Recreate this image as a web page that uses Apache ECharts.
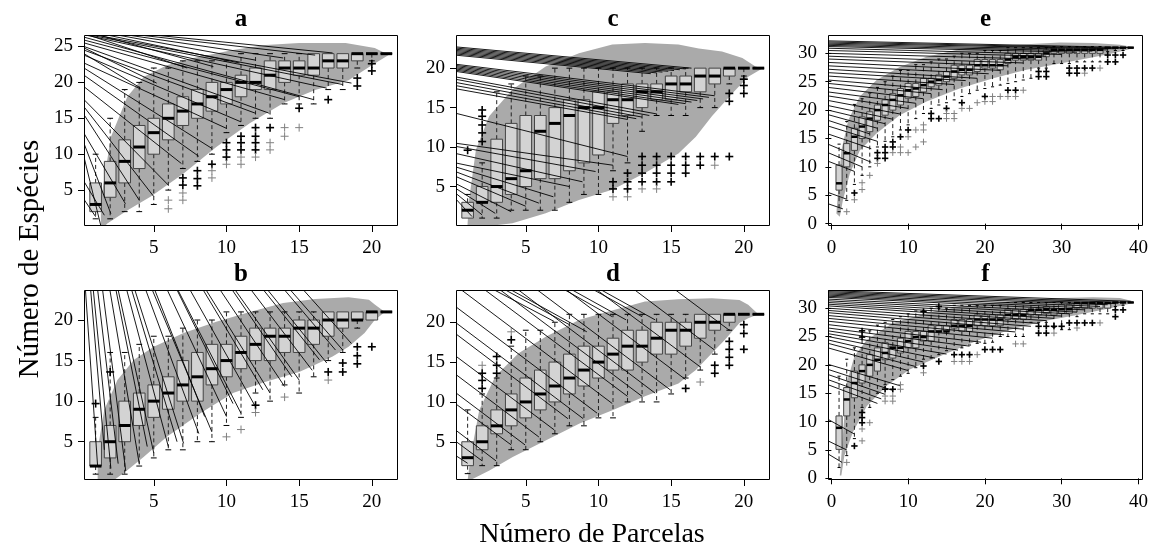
<!DOCTYPE html>
<html><head><meta charset="utf-8">
<script src="https://cdn.jsdelivr.net/npm/echarts@6/dist/echarts.min.js"></script>
<style>html,body{margin:0;padding:0;background:#fff}#c{width:1153px;height:551px}</style>
</head><body><div id="c"></div>
<script>
// ---------- tick labels ----------
const ticksX20 = [5, 10, 15, 20];
const ticksX40 = [0, 10, 20, 30, 40];
const ticksY25 = [5, 10, 15, 20, 25];
const ticksY20 = [5, 10, 15, 20];
const ticksY30 = [0, 5, 10, 15, 20, 25, 30];
const panelTitles = ['a', 'b', 'c', 'd', 'e', 'f'];
const yTitle = 'Número de Espécies';
const xTitle = 'Número de Parcelas';

// ---------- boxes: [parcelas, lowerWhisker, Q1, median, Q3, upperWhisker] ----------
const boxesA = [[1,1,2,3,6,10],[2,1,4,6,9,15],[3,2,6,9,12,19],[4,2,8,11,14,20],[5,3,10,13,15,22],[6,5,12,15,17,22],[7,8,14,16,18,23],[8,9,15,17,19,23],[9,10,16,18,20,23],[10,13,17,19,20,23],[11,14,18,20,21,24],[12,15,19,20,22,24],[13,15,19,21,23,24],[14,17,20,22,23,24],[15,17,21,22,23,24],[16,17,21,22,24,24],[17,19,22,23,24,24],[18,19,22,23,24,24],[19,22,23,24,24,24],[20,23,24,24,24,24],[21,24,24,24,24,24]];
const boxesB = [[1,1,2,2,5,8],[2,1,3,5,7,16],[3,1,5,7,10,16],[4,2,7,9,11,17],[5,3,8,10,12,18],[6,4,9,11,13,18],[7,4,10,12,15,19],[8,5,10,13,16,20],[9,5,12,14,17,20],[10,7,13,15,17,21],[11,8,14,16,18,21],[12,11,15,17,19,21],[13,10,15,18,19,21],[14,12,16,18,19,21],[15,11,16,19,20,21],[16,13,17,19,20,21],[17,15,18,20,21,21],[18,16,19,20,21,21],[19,19,20,20,21,21],[20,20,20,21,21,21],[21,21,21,21,21,21]];
const boxesC = [[1,1,1,2,3,4],[2,1,3,3,5,8],[3,1,3,5,11,17],[4,2,4,6,13,18],[5,2,5,7,14,19],[6,2,6,12,14,19],[7,2,6,13,15,20],[8,3,7,14,16,20],[9,4,8,15,16,20],[10,4,9,15,17,20],[11,7,13,16,17,20],[12,8,14,16,18,20],[13,12,15,17,18,20],[14,14,16,17,18,20],[15,14,16,18,19,20],[16,14,17,18,19,20],[17,15,17,19,20,20],[18,15,18,19,20,20],[19,18,19,20,20,20],[20,19,20,20,20,20],[21,20,20,20,20,20]];
const boxesD = [[1,1,2,3,5,9],[2,2,4,5,7,11],[3,2,6,7,9,13],[4,4,7,9,11,17],[5,4,8,10,13,19],[6,5,9,11,14,19],[7,6,10,12,15,20],[8,7,11,13,16,21],[9,7,12,14,17,21],[10,8,13,15,17,21],[11,8,14,16,18,21],[12,10,14,17,19,21],[13,10,15,17,19,21],[14,10,16,18,20,21],[15,11,16,19,20,21],[16,13,17,19,20,21],[17,14,18,20,21,21],[18,16,19,20,21,21],[19,19,20,21,21,21],[20,21,21,21,21,21],[21,21,21,21,21,21]];
const boxesE = [[1,2.1,5.9,7.1,10.3,14],[2,4.1,10,12.4,14.1,18],[3,6.9,12.9,15.3,16.8,21],[4,8.5,15,17.1,18.8,22],[5,10,16.2,18.5,19.7,23],[6,13.5,18.2,20,20.9,24],[7,14.5,19.1,20.9,21.8,25],[8,15.3,20,21.8,22.9,26],[9,16.5,20.9,22.6,23.8,27],[10,17.4,22.1,23.5,24.7,27],[11,18.5,22.4,23.8,24.7,28],[12,19.4,23.2,24.4,25.6,28],[13,20.3,24.1,25,25.6,28.5],[14,20.9,24.4,25.3,26.2,29],[15,21.3,25,25.9,26.8,29],[16,21.8,25.6,26.8,27.9,29.5],[17,22.4,26.2,27.1,27.9,30],[18,22.9,26.2,27.1,27.9,30],[19,23.5,26.8,27.9,28.9,30],[20,23.8,27.4,27.9,28.9,30.5],[21,24.1,27.4,27.9,28.9,30.5],[22,24.4,27.1,27.9,28.9,30.5],[23,24.7,28.2,28.9,30,31],[24,25,28.8,29.4,30,31],[25,25.3,28.8,29.4,30,31],[26,25.6,28.8,29.4,30,31],[27,27.4,28.8,29.4,30,31],[28,27.4,29.4,30,30.6,31],[29,28.2,30,30.6,30.9,31.2],[30,28.2,30,30.6,30.9,31.2],[31,28.2,30,30.6,30.9,31.2],[32,28.5,30,30.6,30.9,31.2],[33,28.5,30,30.6,30.9,31.2],[34,28.5,30,30.6,30.9,31.2],[35,28.5,30,30.6,30.9,31.2],[36,30.3,30.9,31,31,31],[37,30.5,31,31,31,31],[38,30.5,31,31,31,31],[39,31,31,31,31,31]];
const boxesF = [[1,1.9,5.1,8.9,11,18],[2,4,11,13.9,16,21],[3,7,14.2,16.8,18.9,23],[4,12.5,16.8,18.9,20,25],[5,12.5,18,20,21.8,26],[6,15,18.9,20.9,23,27],[7,16.5,20.9,22.1,23.9,27.5],[8,17.4,21.2,23,23.3,28],[9,18,22.1,23,24.7,28.5],[10,18.5,23,24.2,25.9,29],[11,19.5,23,24.9,25.9,29.5],[12,21,24.2,24.9,25.9,29.5],[13,21.2,24.2,25.9,26.9,30],[14,21.8,25.9,25.9,26.9,30],[15,22.5,25.9,25.9,26.9,30],[16,22.7,26.5,26.9,28,30.5],[17,23,25.9,26.9,28,30.5],[18,23.5,25.9,26.9,28,30.5],[19,23.8,26.9,28,28.8,30.5],[20,23.8,26.9,28,28.8,30.5],[21,24,26.9,28,28.8,30.5],[22,25,26.9,28,28.8,30.5],[23,25,28,28.8,29.8,31],[24,25,28,28.8,29.8,31],[25,25,28,28.8,29.8,31],[26,27.5,28.8,29.7,29.8,31],[27,27.5,28.8,29.7,29.8,31],[28,27.5,29.1,29.8,30.3,31],[29,26.6,28.8,29.7,29.8,31],[30,26.2,29.1,29.8,30.6,31],[31,26.2,29.1,29.8,30.6,31],[32,28.5,30,30.9,30.9,31],[33,29,30,30.9,30.9,31],[34,29,30,30.9,30.9,31],[35,29,30,30.9,30.9,31],[36,29,30,30.9,30.9,31],[37,30.3,31,31,31,31],[38,30.5,31,31,31,31],[39,31,31,31,31,31]];

// ---------- outliers: [parcelas, especies, grey(1)/black(0)] ----------
const outA = [[6,3.6,1],[6,2.4,1],[7,6.7,0],[7,5.7,0],[7,4.6,1],[7,3.6,1],[8,7.7,0],[8,6.6,0],[8,5.6,0],[9,8.6,0],[9,7.7,1],[9,6.7,1],[10,11.6,0],[10,10.6,0],[10,9.6,0],[10,8.6,1],[11,12.5,0],[11,11.6,0],[11,10.6,0],[11,9.6,1],[11,8.6,1],[12,13.7,0],[12,12.5,0],[12,11.6,0],[12,10.6,0],[12,9.6,1],[13,13.7,0],[13,11.6,1],[13,10.6,1],[14,13.7,1],[14,12.5,1],[15,16.4,0],[15,13.7,1],[17,17.6,0],[19,20.6,0],[19,19.5,0],[20,22.6,0],[20,21.6,0]];
const outB = [[1,9.7,0],[2,13.6,0],[10,5.6,1],[11,6.5,1],[12,9.5,0],[12,8.6,1],[14,10.5,1],[17,13.6,0],[17,12.6,1],[18,14.7,0],[18,13.6,0],[19,16.7,0],[19,15.6,0],[19,14.6,0],[20,16.7,0]];
const outC = [[1,9.6,0],[2,14.7,0],[2,13.9,0],[2,12.8,0],[2,11.8,0],[2,10.7,0],[11,5.6,0],[11,4.7,0],[11,3.7,1],[12,6.7,0],[12,5.6,0],[12,4.7,0],[12,3.7,1],[13,8.8,0],[13,7.7,0],[13,6.7,0],[13,5.6,0],[13,4.7,1],[14,8.8,0],[14,7.7,0],[14,6.7,0],[14,5.6,0],[14,4.7,1],[15,8.8,0],[15,7.7,0],[15,6.7,0],[15,5.6,0],[16,8.8,0],[16,7.7,0],[16,6.7,0],[17,8.8,0],[17,7.7,0],[18,8.8,0],[18,7.7,1],[19,16.8,0],[19,15.8,0],[19,8.8,0],[20,18.6,0],[20,17.8,0],[20,16.8,0]];
const outD = [[2,14.6,1],[2,13.6,0],[2,12.7,0],[2,11.7,0],[3,15.7,0],[3,14.6,0],[3,13.6,0],[4,18.8,1],[4,17.8,0],[16,11.7,0],[17,12.5,1],[18,14.6,0],[18,13.6,0],[19,17.6,0],[19,16.6,0],[19,15.6,0],[19,14.6,0],[20,19.7,0],[20,18.6,0],[20,16.6,0]];
const outE = [[2,2.1,1],[3,5.4,0],[3,4.2,1],[4,7.2,1],[4,6.0,1],[5,8.5,1],[6,12.5,0],[6,11.5,0],[6,10.6,1],[7,13.5,0],[7,12.5,0],[7,11.5,0],[8,14.4,0],[8,13.5,0],[8,12.5,1],[9,15.3,0],[9,13.5,1],[9,12.5,1],[10,16.5,0],[10,15.3,1],[10,12.5,1],[11,16.5,1],[11,13.5,1],[12,17.4,1],[12,16.5,1],[12,14.4,1],[13,19.4,0],[13,18.5,0],[14,18.5,0],[15,20.3,0],[15,19.4,1],[15,18.5,1],[16,19.4,1],[16,18.5,1],[17,21.3,0],[17,20.3,1],[18,20.3,1],[19,21.3,1],[20,22.4,0],[20,21.5,1],[21,22.4,1],[21,21.5,1],[22,22.4,1],[23,23.5,0],[23,22.4,1],[24,23.5,0],[24,22.4,1],[25,23.5,1],[27,26.8,0],[27,25.9,0],[28,26.8,0],[28,25.9,0],[31,27.4,0],[31,26.5,0],[32,27.4,0],[32,26.5,0],[33,27.4,0],[33,26.5,1],[34,27.4,0],[35,27.4,1],[36,29.7,0],[36,28.5,0],[37,29.7,0],[37,28.5,0],[38,29.7,0]];
const outF = [[2,2.8,1],[3,5.7,0],[4,26.0,0],[4,24.9,0],[4,11.6,0],[4,10.7,0],[4,9.8,0],[4,8.7,1],[4,6.6,1],[5,9.8,1],[7,15.7,0],[7,14.5,1],[7,13.6,1],[8,15.7,0],[8,14.5,1],[8,13.6,1],[9,16.5,1],[9,15.7,1],[12,29.4,0],[12,19.8,0],[12,18.6,1],[14,30.3,0],[14,20.6,0],[16,21.8,0],[16,20.6,1],[17,21.8,0],[17,20.6,1],[18,21.8,0],[18,20.6,1],[19,21.8,1],[20,22.7,0],[21,22.7,0],[22,22.7,0],[24,23.7,1],[25,23.7,1],[27,26.8,0],[27,25.6,0],[28,26.8,0],[28,25.6,0],[29,26.8,0],[29,25.6,1],[30,26.8,0],[31,27.4,0],[32,27.4,0],[32,26.5,1],[33,27.4,0],[34,27.4,0],[35,27.4,1],[37,29.7,0],[37,28.5,0],[38,29.7,0]];

// ---------- grey envelope polygons: [parcelas, especies] ----------
const bandA = [[1.36,-0.1],[1.36,3.6],[2.05,12.4],[3.18,18.0],[4.32,20.8],[5.9,22.4],[7.73,23.4],[10.45,24.5],[12.7,25.2],[15,25.5],[18.2,25.5],[20.2,24.8],[20.9,24.1],[21.3,24],[20,22.4],[18.4,20.3],[16.1,18.95],[13.9,17.1],[11.6,14.3],[9.3,11.0],[7.05,7.3],[4.8,4.1],[3.2,2.2],[1.8,0.35],[1.6,-0.1]];
const bandB = [[1.14,0.27],[1.14,3.97],[1.59,8.9],[2.5,12.6],[3.64,15.1],[5,16.7],[7.05,18.4],[9.3,19.8],[11.6,21.0],[13.9,22.1],[16.1,22.6],[18.4,22.8],[19.8,22.5],[20.2,21.9],[20.9,21.0],[20.2,20.0],[19.5,18.4],[18.4,16.7],[17.3,15.5],[16.1,14.5],[15.0,13.6],[12.7,12.4],[10.45,11.0],[8.2,8.5],[5.9,5.6],[4.3,3.1],[3.2,1.5],[2.27,0.27]];
const bandC = [[0.99,0.1],[1.1,3.3],[1.57,9.65],[2.48,13.9],[4.08,17.3],[6.37,20.2],[8.66,21.9],[10.95,23.0],[13.2,23.2],[15.5,23.0],[16.9,22.5],[18.5,22.1],[19.9,21.3],[20.8,20.2],[21.3,20],[20.3,18.9],[19.2,16.8],[17.8,13.9],[16.7,11.3],[15.5,9.2],[13.2,6.7],[10.95,4.6],[8.66,3.3],[6.37,1.6],[4.08,0.35],[2.48,0]];
const bandD = [[1.0,0.2],[1.2,3.1],[1.8,9.0],[2.9,13.2],[4.5,16.1],[6.4,18.2],[8.7,20.3],[11.0,21.5],[13.2,22.6],[15.5,22.9],[17.8,23.0],[19.7,22.8],[20.3,22.2],[21.0,21.0],[20.3,20.5],[19.7,19.9],[18.7,17.8],[17.8,16.1],[16.7,14.0],[15.5,12.3],[13.2,10.7],[11.0,9.0],[8.7,7.3],[6.4,5.2],[4.1,3.1],[2.5,1.4],[1.2,0.2]];
const bandE = [[0.65,1.8],[1.3,12.9],[2.2,18.2],[3.7,22.4],[5.9,25.3],[8.9,27.6],[12.4,29.4],[16.7,30.7],[21.1,31.3],[25.4,31.6],[29.8,31.9],[34.1,31.8],[37.6,31.5],[39.3,31.1],[39.3,30.9],[36.7,30],[34.1,29.3],[29.8,28.2],[25.4,27.1],[21.1,25.6],[16.7,23.8],[12.4,21.5],[8.9,19.1],[5.9,15.9],[3.7,12.9],[2.4,8.8],[1.5,4.1],[1.1,1.2]];
const bandF = [[1.1,0.5],[1.5,7.5],[2,16.8],[3,21.5],[4.6,24.4],[8,27.4],[12.4,29.1],[16.7,30.3],[21.1,30.9],[25.4,31.3],[29.8,31.8],[34.1,31.9],[37.6,31.8],[39.3,31.2],[39.3,30.9],[36.3,30],[32,28.8],[27.6,27.7],[23.3,26.2],[18.9,24.2],[14.6,21.8],[10.2,19.2],[7.2,16.3],[4.6,12.7],[2.8,8.1],[1.7,4],[1.3,0.5]];

// ---------- thin black segments: [x0, y0, x1, y1] ----------
const segA = [[0.2,3.7,1.0,1.3],[0.2,6.2,1.6,1.5],[0.2,9.6,1.35,0.1],[0.2,11.5,2.05,1.7],[0.2,12.9,3.05,3.1],[0.2,15.5,4.0,3.6],[0.2,16.6,5.0,4.1],[0.2,17.6,6.0,5.7],[0.2,19.4,6.9,8.7],[0.2,21.0,8.1,9.7],[0.2,22.0,9.0,10.8],[0.2,22.7,10.0,13.6],[0.2,23.8,11.0,14.5],[0.2,24.5,12.0,15.7],[0.2,25.0,12.95,15.7],[0.2,25.5,14.0,17.6],[0.2,25.9,15.0,18.0],[0.2,26.3,16.0,17.6],[0.3,26.6,16.9,19.2],[0.6,26.6,18.0,19.7],[1.0,26.6,18.6,19.9],[0.2,24.0,4.1,19.2],[0.2,24.8,5.2,19.9],[0.5,26.6,7.3,22.0],[1.2,26.6,9.1,22.2],[1.8,26.6,10.9,22.7],[2.5,26.6,12.0,23.1],[3.2,26.6,13.9,23.4],[4.0,26.6,16.1,23.8],[5.0,26.6,17.3,24.1]];
const segB = [[0.3,23.7,1.14,1.9],[0.84,23.7,2.05,1.7],[1.48,23.7,3.07,1.4],[1.98,23.7,4.0,2.3],[2.55,23.7,5.0,3.6],[3.14,23.7,6.0,4.4],[3.7,23.7,7.05,4.8],[4.45,23.7,8.1,6.0],[4.9,23.7,9.0,6.2],[5.93,23.7,10.0,8.1],[6.66,23.7,11.0,8.5],[7.5,23.7,12.0,9.3],[8.6,23.7,13.0,11.0],[9.57,23.7,14.0,11.8],[10.6,23.7,15.0,12.6],[11.7,23.7,15.9,13.8],[12.84,23.7,16.9,14.7],[14.4,23.7,18.0,16.3],[15.3,23.7,18.6,17.1],[0.66,23.7,1.6,4.0],[1.14,23.7,2.55,2.3],[2.4,23.7,4.55,4.4],[3.48,23.7,6.6,5.0],[5.07,23.7,8.5,8.1],[6.6,23.7,10.45,9.7],[8.4,23.7,12.5,11.4],[10.4,23.7,14.5,13.0],[12.55,23.7,16.4,15.1],[14.0,23.7,17.5,16.3]];
const segC = [[0.15,22.7,16.4,20.0],[0.15,22.55,16.0,19.9],[0.15,22.4,15.6,19.8],[0.15,22.25,15.2,19.7],[0.15,22.1,14.8,19.6],[0.15,21.95,14.4,19.5],[0.15,21.8,14.0,19.4],[0.15,21.65,13.6,19.3],[0.15,20.5,18.0,16.5],[0.15,20.35,17.6,16.3],[0.15,20.2,17.2,16.1],[0.15,20.05,16.8,15.9],[0.15,19.9,16.4,15.7],[0.15,19.75,16.0,15.5],[0.15,19.6,15.5,15.4],[0.15,18.9,14.0,14.2],[0.15,18.6,13.5,14.0],[0.15,18.2,13.0,13.8],[0.15,17.8,12.6,13.6],[0.15,17.4,12.0,13.5],[0.15,14.3,12.0,8.8],[0.15,10.5,11.0,7.7],[0.15,10.1,9.8,6.9],[0.15,9.2,8.9,5.6],[0.15,8.0,8.0,5.0],[0.15,7.5,6.9,3.7],[0.15,6.9,5.9,2.9],[0.15,6.3,5.0,2.5],[0.15,5.4,4.0,1.8],[0.15,4.8,2.9,1.6],[0.15,4.2,2.0,1.4],[0.15,3.5,1.3,1.2]];
const segD = [[0.15,3.3,1.0,2.3],[0.15,5.1,2.0,2.6],[0.15,6.5,2.95,2.6],[0.15,9.8,4.0,4.6],[0.15,11.2,4.95,4.6],[0.15,13.5,5.9,5.6],[0.15,15.8,6.95,6.5],[0.15,18.6,7.9,7.9],[0.15,20.0,8.95,7.9],[0.15,22.0,9.9,8.6],[0.58,24.05,10.95,9.8],[2.2,24.05,12.0,10.7],[3.25,24.05,13.0,10.7],[4.5,24.05,13.9,11.1],[5.8,24.05,14.95,11.5],[7.8,24.05,16.0,12.8],[9.9,24.05,17.0,14.4],[12.5,24.05,18.0,16.5],[15.3,24.05,19.0,19.0],[2.84,24.05,6.95,20.1],[3.6,24.05,8.0,19.7],[4.0,24.05,9.2,18.8],[7.7,24.05,10.95,20.7],[8.2,24.05,11.9,20.3],[9.7,24.05,13.0,20.7],[10.2,24.05,13.9,20.3]];
const segE = [[-0.44,32.2,39.3,31.0],[-0.44,32.0,38,30.9],[-0.44,31.8,37,30.8],[-0.44,31.6,36,30.6],[-0.44,31.4,34,30.4],[-0.44,31.2,32,30.2],[-0.44,30.9,30,29.8],[-0.44,30.5,28,29.5],[-0.44,30.0,26.5,29.0],[-0.44,29.5,25,28.3],[-0.44,29.0,23,27.8],[-0.44,28.4,22,27.0],[-0.44,27.8,20.5,26.4],[-0.44,27.2,19,25.6],[-0.44,26.6,17.5,25.2],[-0.44,26.0,16,24.5],[-0.44,25.3,14.5,23.6],[-0.44,24.7,13,22.9],[-0.44,24.0,12,22.0],[-0.44,23.2,11,21.2],[-0.44,22.5,10,20.3],[-0.44,21.7,9,19.3],[-0.44,20.8,8,18.4],[-0.44,20.0,7,17.6],[-0.44,19.2,6,16.8],[-0.44,18.2,5,15.8],[-0.44,17.2,6.0,14.5],[-0.44,15.8,5.2,13.2],[-0.44,14.0,5.2,10.8],[-0.44,12.5,4.0,10.0],[-0.44,11.0,3.0,9.2],[-0.44,5.5,2.0,4.3],[-0.44,3.5,1.5,2.6]];
const segF = [[-0.44,33.1,39,31.2],[-0.44,32.9,38,31.0],[-0.44,32.7,37,30.8],[-0.44,32.5,36,30.6],[-0.44,32.3,35,30.3],[-0.44,32.1,34,30.0],[-0.44,31.9,33,29.7],[-0.44,31.6,32,29.3],[-0.44,31.3,31,29.0],[-0.44,31.0,30,28.6],[-0.44,30.7,29,28.2],[-0.44,30.4,28,27.8],[-0.44,30.0,27,27.3],[-0.44,29.6,26,26.8],[-0.44,29.2,25,26.3],[-0.44,28.7,24,25.8],[-0.44,28.2,22.5,25.3],[-0.44,27.7,21,24.7],[-0.44,27.1,19.5,24.0],[-0.44,26.5,18,23.3],[-0.44,26.0,16.5,22.6],[-0.44,25.5,15,21.9],[-0.44,25.0,13.5,21.2],[-0.44,24.4,12,20.5],[-0.44,23.8,11,19.7],[-0.44,23.0,10,19.0],[-0.44,20.1,9,16.3],[-0.44,19.2,8,15.5],[-0.44,18.3,7,14.8],[-0.44,17.4,6.5,14.0],[-0.44,16.5,6,13.2],[-0.44,10.4,3.0,7.8],[-0.44,6.6,2.0,5.0],[-0.44,4.3,1.4,2.8]];

// ---------- layout (positions / styles) ----------
const SERIF = '"Liberation Serif", "Times New Roman", serif';
const panels = [
  {t:'a', box:[84,35,314,191], xr:[0.2,21.8], yr:[0,26.6], xt:ticksX20, yt:ticksY25, boxes:boxesA, out:outA, band:bandA, seg:segA, med:3, plus:4},
  {t:'c', box:[456,35,314,191], xr:[0.2,21.8], yr:[0,24.2], xt:ticksX20, yt:ticksY20, boxes:boxesC, out:outC, band:bandC, seg:segC, med:3, plus:4},
  {t:'e', box:[828,35,315,191], xr:[-0.44,40.6], yr:[-0.42,33.23], xt:ticksX40, yt:ticksY30, boxes:boxesE, out:outE, band:bandE, seg:segE, med:2.5, plus:3.2},
  {t:'b', box:[84,290,314,190], xr:[0.2,21.8], yr:[0.28,23.7], xt:ticksX20, yt:ticksY20, boxes:boxesB, out:outB, band:bandB, seg:segB, med:3, plus:4},
  {t:'d', box:[456,290,314,190], xr:[0.2,21.8], yr:[0.2,24.05], xt:ticksX20, yt:ticksY20, boxes:boxesD, out:outD, band:bandD, seg:segD, med:3, plus:4},
  {t:'f', box:[828,290,315,190], xr:[-0.44,40.6], yr:[-0.3,33.2], xt:ticksX40, yt:ticksY30, boxes:boxesF, out:outF, band:bandF, seg:segF, med:2.5, plus:3.2}
];

function bandRender(pts){
  return function(params, api){
    return {type:'polygon', shape:{points: pts.map(p => api.coord(p))}, style:{fill:'#aaaaaa'}};
  };
}
function segRender(params, api){
  const a = api.coord([api.value(0), api.value(1)]);
  const b = api.coord([api.value(2), api.value(3)]);
  return {type:'line', shape:{x1:a[0],y1:a[1],x2:b[0],y2:b[1]}, style:{stroke:'#000', lineWidth:0.9}};
}
function boxRender(medW){
  return function(params, api){
    const x = api.value(0);
    const pLo = api.coord([x, api.value(1)]), pQ1 = api.coord([x, api.value(2)]);
    const pMd = api.coord([x, api.value(3)]), pQ3 = api.coord([x, api.value(4)]);
    const pHi = api.coord([x, api.value(5)]);
    const half = api.size([0.8, 0])[0] / 2;
    const cx = pMd[0];
    const ch = [];
    const dash = {stroke:'#222', lineWidth:1, lineDash:[4,3]};
    const cap = {stroke:'#000', lineWidth:1};
    if (pLo[1] - pQ1[1] > 0.5) {
      ch.push({type:'line', shape:{x1:cx,y1:pQ1[1],x2:cx,y2:pLo[1]}, style:dash});
      ch.push({type:'line', shape:{x1:cx-half/2,y1:pLo[1],x2:cx+half/2,y2:pLo[1]}, style:cap});
    }
    if (pQ3[1] - pHi[1] > 0.5) {
      ch.push({type:'line', shape:{x1:cx,y1:pQ3[1],x2:cx,y2:pHi[1]}, style:dash});
      ch.push({type:'line', shape:{x1:cx-half/2,y1:pHi[1],x2:cx+half/2,y2:pHi[1]}, style:cap});
    }
    ch.push({type:'rect', shape:{x:cx-half, y:pQ3[1], width:2*half, height:Math.max(0, pQ1[1]-pQ3[1])}, style:{fill:'#d3d3d3', stroke:'#454545', lineWidth:1}});
    ch.push({type:'line', shape:{x1:cx-half,y1:pMd[1],x2:cx+half,y2:pMd[1]}, style:{stroke:'#000', lineWidth:medW}});
    return {type:'group', children:ch};
  };
}
function plusRender(sz){
  return function(params, api){
    const c = api.coord([api.value(0), api.value(1)]);
    const grey = api.value(2) === 1;
    const st = {stroke: grey ? '#808080' : '#000', lineWidth: grey ? 1 : 1.6};
    return {type:'group', children:[
      {type:'line', shape:{x1:c[0]-sz,y1:c[1],x2:c[0]+sz,y2:c[1]}, style:st},
      {type:'line', shape:{x1:c[0],y1:c[1]-sz,x2:c[0],y2:c[1]+sz}, style:st}
    ]};
  };
}

const grids = [], xAxes = [], yAxes = [], series = [], graphics = [];
panels.forEach((p, i) => {
  const [l, t, w, h] = p.box;
  grids.push({left:l, top:t, width:w, height:h, containLabel:false});
  const axBase = {
    type:'value', gridIndex:i, splitLine:{show:false},
    axisLine:{show:false}
  };
  xAxes.push(Object.assign({}, axBase, {
    min:p.xr[0], max:p.xr[1],
    axisTick:{show:true, inside:false, length:6, customValues:p.xt, lineStyle:{color:'#000', width:1}},
    axisLabel:{customValues:p.xt, margin:13, color:'#000', fontFamily:SERIF, fontSize:19}
  }));
  yAxes.push(Object.assign({}, axBase, {
    min:p.yr[0], max:p.yr[1],
    axisTick:{show:true, inside:false, length:6, customValues:p.yt, lineStyle:{color:'#000', width:1}},
    axisLabel:{customValues:p.yt, margin:11, color:'#000', fontFamily:SERIF, fontSize:19}
  }));
  const common = {xAxisIndex:i, yAxisIndex:i, silent:true, clip:true, animation:false};
  series.push(Object.assign({type:'custom', z:1, data:[p.band[0]], renderItem:bandRender(p.band)}, common));
  series.push(Object.assign({type:'custom', z:2, data:p.boxes, renderItem:boxRender(p.med)}, common));
  series.push(Object.assign({type:'custom', z:3, data:p.seg, renderItem:segRender}, common));
  series.push(Object.assign({type:'custom', z:4, data:p.out, renderItem:plusRender(p.plus)}, common));
  graphics.push({type:'rect', z:100, shape:{x:l+0.5, y:t+0.5, width:w-1, height:h-1}, style:{fill:null, stroke:'#000', lineWidth:1}});
  graphics.push({type:'text', z:100, x:l + w/2, y:t - 3, style:{text:p.t, textAlign:'center', textVerticalAlign:'bottom', font:'bold 25px ' + SERIF, fill:'#000'}});
});
graphics.push({type:'text', z:100, x:30, y:259, rotation:Math.PI/2, style:{text:yTitle, textAlign:'center', textVerticalAlign:'middle', font:'29px ' + SERIF, fill:'#000'}});
graphics.push({type:'text', z:100, x:592, y:535, style:{text:xTitle, textAlign:'center', textVerticalAlign:'middle', font:'28px ' + SERIF, fill:'#000'}});

const chart = echarts.init(document.getElementById('c'), null, {renderer:'canvas'});
chart.setOption({
  animation:false,
  backgroundColor:'#fff',
  grid:grids, xAxis:xAxes, yAxis:yAxes, series:series, graphic:graphics
});
</script></body></html>
